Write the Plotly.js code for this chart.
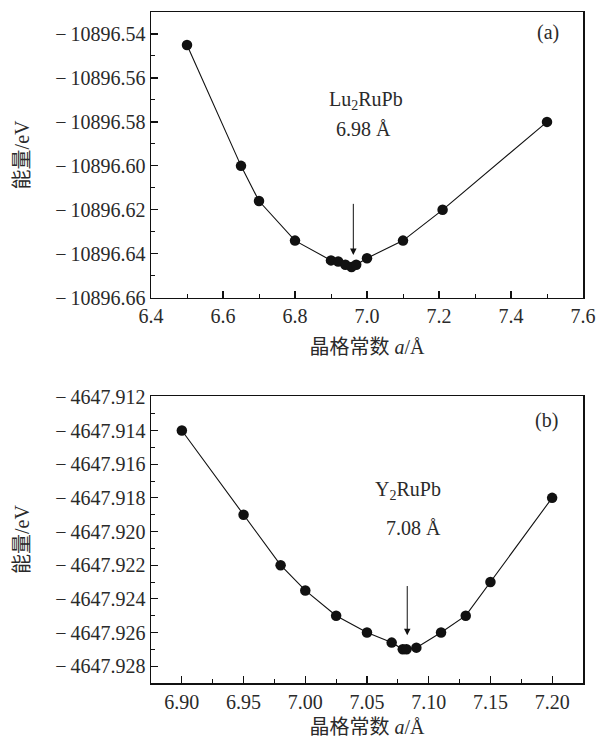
<!DOCTYPE html>
<html>
<head>
<meta charset="utf-8">
<script src="https://cdn.plot.ly/plotly-3.0.1.min.js"></script>
<style>html,body{margin:0;padding:0;background:#fff;}#chart{width:598px;height:738px;}</style>
</head>
<body>
<div id="chart"></div>
<script>
// Panel (a): Lu2RuPb
const luLattice = [6.50, 6.65, 6.70, 6.80, 6.90, 6.92, 6.94, 6.957, 6.97, 7.00, 7.10, 7.21, 7.50];
const luEnergy = [-10896.545, -10896.600, -10896.616, -10896.634, -10896.643, -10896.6435, -10896.645, -10896.646, -10896.645, -10896.642, -10896.634, -10896.620, -10896.580];
// Panel (b): Y2RuPb
const yLattice = [6.90, 6.95, 6.98, 7.00, 7.025, 7.05, 7.07, 7.079, 7.082, 7.09, 7.11, 7.13, 7.15, 7.20];
const yEnergy = [-4647.914, -4647.919, -4647.922, -4647.9235, -4647.925, -4647.926, -4647.9266, -4647.927, -4647.927, -4647.9269, -4647.926, -4647.925, -4647.923, -4647.918];

// Y tick values / labels
const yTicksA = [-10896.66, -10896.64, -10896.62, -10896.60, -10896.58, -10896.56, -10896.54];
const yTickTextA = ["−\u200910896.66", "−\u200910896.64", "−\u200910896.62", "−\u200910896.60", "−\u200910896.58", "−\u200910896.56", "−\u200910896.54"];
const yTicksB = [-4647.928, -4647.926, -4647.924, -4647.922, -4647.920, -4647.918, -4647.916, -4647.914, -4647.912];
const yTickTextB = ["−\u20094647.928", "−\u20094647.926", "−\u20094647.924", "−\u20094647.922", "−\u20094647.920", "−\u20094647.918", "−\u20094647.916", "−\u20094647.914", "−\u20094647.912"];

const xTitleText = "晶格常数 <i>a</i>/Å";
const yTitleText = "能量/eV";
const labelA = ["Lu<sub>2</sub>RuPb", "6.98 Å", "(a)"];
const labelB = ["Y<sub>2</sub>RuPb", "7.08 Å", "(b)"];

const FONT = "Liberation Serif, 'DejaVu Serif', 'Noto Sans CJK SC', serif";
const fs = 20;
const TXT = '#2a2a2a';

const markerStyle = {symbol: 'circle', size: 10.5, color: '#111'};
const lineStyle = {color: '#111', width: 1.1};

const traces = [
  {x: luLattice, y: luEnergy, xaxis: 'x', yaxis: 'y', mode: 'lines+markers', marker: markerStyle, line: lineStyle, showlegend: false},
  {x: yLattice, y: yEnergy, xaxis: 'x2', yaxis: 'y2', mode: 'lines+markers', marker: markerStyle, line: lineStyle, showlegend: false}
];

function axisBase() {
  return {
    showline: true, mirror: true, linecolor: '#111', linewidth: 1.5,
    ticks: 'inside', ticklen: 7, tickwidth: 1.2, tickcolor: '#111',
    showgrid: false, zeroline: false,
    tickfont: {family: FONT, size: fs, color: TXT},
    title: {font: {family: FONT, size: fs, color: TXT}}
  };
}

const xa = Object.assign(axisBase(), {
  domain: [0, 1], anchor: 'y', range: [6.39999, 7.60001],
  tick0: 6.4, dtick: 0.2, tickformat: '.1f',
  minor: {dtick: 0.1, tick0: 6.4, ticks: 'inside', ticklen: 4, tickcolor: '#111', tickwidth: 1}
});
xa.title.text = xTitleText; xa.title.standoff = 13;

const ya = Object.assign(axisBase(), {
  domain: [0.5738, 1], anchor: 'x', range: [-10896.6601, -10896.53],
  tickmode: 'array', tickvals: yTicksA, ticktext: yTickTextA,
  minor: {dtick: 0.01, tick0: -10896.66, ticks: 'inside', ticklen: 4, tickcolor: '#111', tickwidth: 1}
});
ya.title.text = yTitleText; ya.title.standoff = 20;

const xa2 = Object.assign(axisBase(), {
  domain: [0, 1], anchor: 'y2', range: [6.875, 7.225],
  tick0: 6.9, dtick: 0.05, tickformat: '.2f',
  minor: {dtick: 0.025, tick0: 6.9, ticks: 'inside', ticklen: 4, tickcolor: '#111', tickwidth: 1}
});
xa2.title.text = xTitleText; xa2.title.standoff = 10;

const ya2 = Object.assign(axisBase(), {
  domain: [0, 0.4277], anchor: 'x2', range: [-4647.929, -4647.91195],
  tickmode: 'array', tickvals: yTicksB, ticktext: yTickTextB,
  minor: {dtick: 0.001, tick0: -4647.928, ticks: 'inside', ticklen: 4, tickcolor: '#111', tickwidth: 1}
});
ya2.title.text = yTitleText; ya2.title.standoff = 20;

const tf = {family: FONT, size: fs, color: TXT};
const annotations = [
  {xref: 'x domain', yref: 'y domain', x: 0.498, y: 0.742, text: labelA[0], showarrow: false, font: tf},
  {xref: 'x domain', yref: 'y domain', x: 0.491, y: 0.591, text: labelA[1], showarrow: false, font: tf},
  {xref: 'x domain', yref: 'y domain', x: 0.948, y: 0.975, text: labelA[2], showarrow: false, font: tf},
  {xref: 'x2 domain', yref: 'y2 domain', x: 0.596, y: 0.72, text: labelB[0], showarrow: false, font: tf},
  {xref: 'x2 domain', yref: 'y2 domain', x: 0.607, y: 0.5385, text: labelB[1], showarrow: false, font: tf},
  {xref: 'x2 domain', yref: 'y2 domain', x: 0.947, y: 0.962, text: labelB[2], showarrow: false, font: tf},
  {xref: 'x', yref: 'y', x: 6.962, y: -10896.6405, axref: 'x', ayref: 'y', ax: 6.962, ay: -10896.6166,
   text: '', showarrow: true, arrowhead: 2, arrowsize: 1.3, arrowwidth: 1, arrowcolor: '#111', standoff: 0},
  {xref: 'x2', yref: 'y2', x: 7.0826, y: -4647.92616, axref: 'x2', ayref: 'y2', ax: 7.0826, ay: -4647.92315,
   text: '', showarrow: true, arrowhead: 2, arrowsize: 1.3, arrowwidth: 1, arrowcolor: '#111', standoff: 0}
];

const layout = {
  width: 598, height: 738,
  margin: {l: 151, r: 15, t: 12, b: 55},
  paper_bgcolor: '#fff', plot_bgcolor: '#fff',
  font: {family: FONT, size: fs, color: TXT},
  xaxis: xa, yaxis: ya, xaxis2: xa2, yaxis2: ya2,
  annotations: annotations,
  showlegend: false
};

Plotly.newPlot('chart', traces, layout, {displayModeBar: false, staticPlot: true});
</script>
</body>
</html>
